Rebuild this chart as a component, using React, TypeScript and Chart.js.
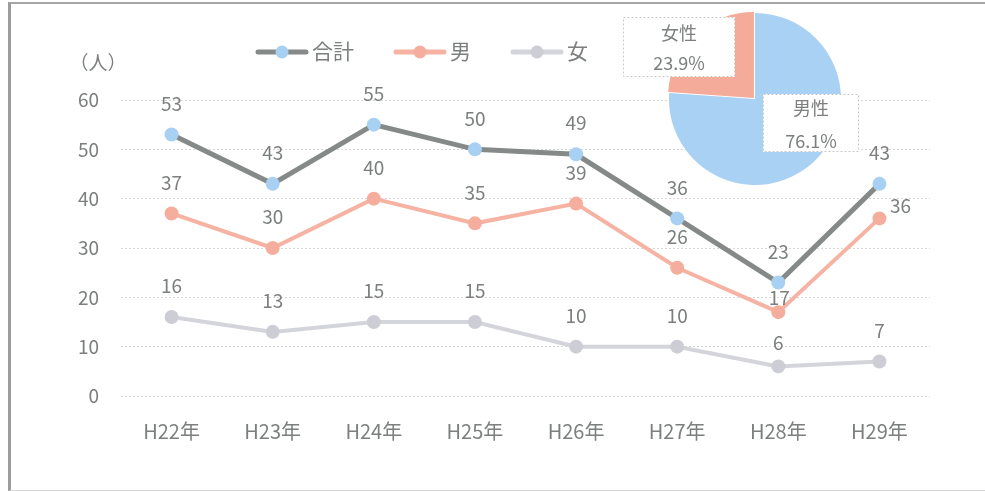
import React, { useEffect, useRef } from "react";
import { Chart, registerables } from "chart.js";

Chart.register(...registerables);

// ---- data ----
const categories = ["H22年", "H23年", "H24年", "H25年", "H26年", "H27年", "H28年", "H29年"];
const seriesNames = ["合計", "男", "女"];
const totalValues = [53, 43, 55, 50, 49, 36, 23, 43];
const maleValues = [37, 30, 40, 35, 39, 26, 17, 36];
const femaleValues = [16, 13, 15, 15, 10, 10, 6, 7];
const yTicks = [0, 10, 20, 30, 40, 50, 60];
const unitLabel = "（人）";
const pieLabels = ["男性", "女性"];
const pieValues = [76.1, 23.9];

// ---- styles ----
const FONT = '"Noto Sans CJK JP", "Noto Sans", sans-serif';
const TEXT = "#7b7f7e";
const lineColors = ["#858a88", "#f6b3a4", "#d4d4db"];
const pointColors = ["#a8d0f2", "#f5ae9e", "#cdcdd5"];
const lineWidths = [5, 4, 4];
const pieColors = ["#a9d1f3", "#f4ab9a"];

// label offsets [dx, dy] relative to point (style only)
const defaultLabelOffset = [0, -31];
const labelOffsets: Record<number, Record<number, number[]>> = {
  1: { 6: [1, -14], 7: [21, -13] },
  2: { 6: [0, -24] },
};

const valueLabelPlugin = {
  id: "valueLabels",
  afterDatasetsDraw(chart: any) {
    const ctx = chart.ctx;
    ctx.save();
    ctx.font = `19px ${FONT}`;
    ctx.fillStyle = TEXT;
    ctx.textAlign = "center";
    ctx.textBaseline = "middle";
    chart.data.datasets.forEach((ds: any, di: number) => {
      const meta = chart.getDatasetMeta(di);
      meta.data.forEach((pt: any, i: number) => {
        const off = (labelOffsets[di] && labelOffsets[di][i]) || defaultLabelOffset;
        ctx.fillText(String(ds.data[i]), pt.x + off[0], pt.y + off[1]);
      });
    });
    ctx.restore();
  },
};

const legendPlugin = {
  id: "lineLegend",
  afterDraw(chart: any) {
    const ctx = chart.ctx;
    ctx.save();
    ctx.font = `21px ${FONT}`;
    let x = 255;
    const y = 51;
    chart.data.datasets.forEach((ds: any) => {
      ctx.strokeStyle = ds.borderColor;
      ctx.lineWidth = 5;
      ctx.lineCap = "round";
      ctx.beginPath();
      ctx.moveTo(x + 3, y + 1);
      ctx.lineTo(x + 51, y + 1);
      ctx.stroke();
      ctx.fillStyle = ds.pointBackgroundColor;
      ctx.beginPath();
      ctx.arc(x + 27, y + 1, 6.5, 0, Math.PI * 2);
      ctx.fill();
      ctx.fillStyle = TEXT;
      ctx.textAlign = "left";
      ctx.textBaseline = "middle";
      ctx.fillText(ds.label, x + 57, y);
      x += 57 + ctx.measureText(ds.label).width + 39;
    });
    // unit label
    ctx.font = `19px ${FONT}`;
    ctx.textAlign = "center";
    ctx.fillText(unitLabel, 98, 63);
    ctx.restore();
  },
};

const pieLabelOffsets = [
  { box: [56, 24, 96, 58], t1: -15, t2: 18 },
  { box: [-76, -52, 112, 60], t1: -14, t2: 16 },
];

const pieLabelPlugin = {
  id: "pieLabels",
  afterDatasetsDraw(chart: any) {
    const ctx = chart.ctx;
    const meta = chart.getDatasetMeta(0);
    const ds = chart.data.datasets[0];
    ctx.save();
    meta.data.forEach((arc: any, i: number) => {
      const cfg = pieLabelOffsets[i];
      const cx = arc.x + cfg.box[0];
      const cy = arc.y + cfg.box[1];
      const w = cfg.box[2];
      const h = cfg.box[3];
      ctx.fillStyle = "#ffffff";
      ctx.fillRect(cx - w / 2, cy - h / 2, w, h);
      ctx.strokeStyle = "#c9c9c9";
      ctx.lineWidth = 1;
      ctx.setLineDash([2, 2]);
      ctx.strokeRect(cx - w / 2 + 0.5, cy - h / 2 + 0.5, w - 1, h - 1);
      ctx.setLineDash([]);
      ctx.fillStyle = TEXT;
      ctx.font = `18px ${FONT}`;
      ctx.textAlign = "center";
      ctx.textBaseline = "middle";
      ctx.fillText(String(chart.data.labels[i]), cx, cy + cfg.t1);
      ctx.fillText(ds.data[i].toFixed(1) + "%", cx, cy + cfg.t2);
    });
    ctx.restore();
  },
};

export default function App() {
  const lineRef = useRef<HTMLCanvasElement>(null);
  const pieRef = useRef<HTMLCanvasElement>(null);

  useEffect(() => {
    const seriesValues = [totalValues, maleValues, femaleValues];
    const lineChart = new Chart(lineRef.current as HTMLCanvasElement, {
      type: "line",
      data: {
        labels: categories,
        datasets: seriesValues.map((vals, i) => ({
          label: seriesNames[i],
          data: vals,
          borderColor: lineColors[i],
          backgroundColor: lineColors[i],
          borderWidth: lineWidths[i],
          pointBackgroundColor: pointColors[i],
          pointBorderWidth: 0,
          pointRadius: 7,
          tension: 0,
          fill: false,
        })),
      },
      options: {
        animation: false,
        responsive: false,
        devicePixelRatio: 1,
        events: [],
        layout: { padding: { left: 10, right: 55, top: 100, bottom: 0 } },
        plugins: { legend: { display: false }, tooltip: { enabled: false } },
        scales: {
          x: {
            type: "category",
            offset: true,
            grid: { display: false, drawTicks: false },
            border: { display: false },
            ticks: { color: TEXT, padding: 23, font: { size: 20, family: FONT } },
            afterFit(scale: any) {
              scale.height = 95;
            },
          },
          y: {
            min: yTicks[0],
            max: yTicks[yTicks.length - 1],
            grid: { color: "#d8d8d8", lineWidth: 1, drawTicks: false },
            border: { display: false, dash: [2, 2] },
            ticks: {
              stepSize: yTicks[1] - yTicks[0],
              color: TEXT,
              padding: 22,
              font: { size: 19, family: FONT },
            },
            afterFit(scale: any) {
              scale.width = 111;
            },
          },
        },
      },
      plugins: [valueLabelPlugin, legendPlugin],
    } as any);

    const pieChart = new Chart(pieRef.current as HTMLCanvasElement, {
      type: "pie",
      data: {
        labels: pieLabels,
        datasets: [
          {
            data: pieValues,
            backgroundColor: pieColors,
            borderWidth: 0,
            offset: [0, 6],
            radius: 86,
          },
        ],
      },
      options: {
        animation: false,
        responsive: false,
        devicePixelRatio: 1,
        events: [],
        layout: { padding: { left: 30, right: 0, top: 0, bottom: 2 } },
        plugins: { legend: { display: false }, tooltip: { enabled: false } },
      },
      plugins: [pieLabelPlugin],
    } as any);

    return () => {
      lineChart.destroy();
      pieChart.destroy();
    };
  }, []);

  return (
    <div
      style={{
        position: "absolute",
        left: 0,
        top: 0,
        width: 985,
        height: 491,
        overflow: "hidden",
        background: "#ffffff",
      }}
    >
      <div
        style={{
          position: "absolute",
          left: 8,
          top: 2,
          width: 990,
          height: 486,
          borderLeft: "3px solid #9c9c9c",
          borderTop: "2px solid #a6a6a6",
          borderBottom: "1px solid #d6d6d6",
        }}
      />
      <canvas
        ref={lineRef}
        width={985}
        height={491}
        style={{ position: "absolute", left: 0, top: 0, width: 985, height: 491 }}
      />
      <canvas
        ref={pieRef}
        width={280}
        height={200}
        style={{ position: "absolute", left: 600, top: 0, width: 280, height: 200 }}
      />
    </div>
  );
}
